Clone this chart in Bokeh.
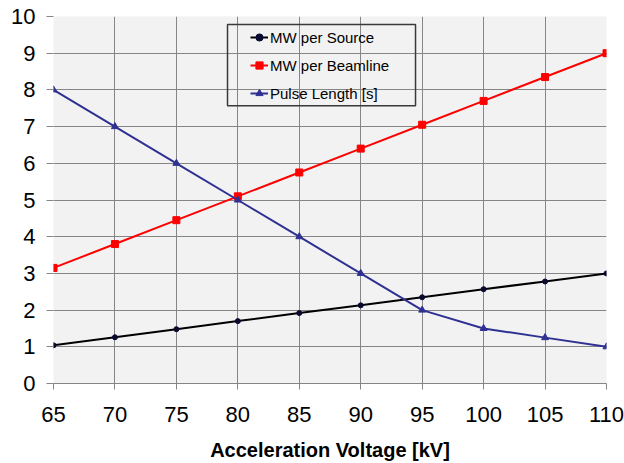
from bokeh.plotting import figure
from bokeh.models import Range1d, Legend, LegendItem, BoxAnnotation, FixedTicker
from bokeh.embed import file_html
from bokeh.resources import INLINE

# Acceleration voltage (kV)
voltage = [65, 70, 75, 80, 85, 90, 95, 100, 105, 110]
# Power per source (MW)
mw_per_source = [1.04, 1.26, 1.48, 1.70, 1.92, 2.13, 2.35, 2.57, 2.78, 3.00]
# Power per beamline (MW)
mw_per_beamline = [3.15, 3.80, 4.45, 5.10, 5.75, 6.40, 7.05, 7.70, 8.35, 9.00]
# Pulse length (s)
pulse_length = [8.0, 7.0, 6.0, 5.0, 4.0, 3.0, 2.0, 1.5, 1.25, 1.0]

x_ticks = [65, 70, 75, 80, 85, 90, 95, 100, 105, 110]
y_ticks = [0, 1, 2, 3, 4, 5, 6, 7, 8, 9, 10]

FONT = "Liberation Sans"
GRID = "#868686"

p = figure(
    width=624, height=463,
    x_range=Range1d(65, 110), y_range=Range1d(0, 10),
    output_backend="svg", toolbar_location=None,
    min_border_left=53, min_border_right=18,
    min_border_top=16, min_border_bottom=80,
    background_fill_color="#F2F2F2",
    border_fill_color="white",
    outline_line_color=None,
)

# grid
p.xgrid.ticker = FixedTicker(ticks=x_ticks)
p.ygrid.ticker = FixedTicker(ticks=y_ticks)
for g in (p.xgrid, p.ygrid):
    g.grid_line_color = GRID
    g.grid_line_width = 1

# x axis
p.xaxis.ticker = FixedTicker(ticks=x_ticks)
p.xaxis.axis_line_color = GRID
p.xaxis.major_tick_line_color = GRID
p.xaxis.major_tick_out = 6
p.xaxis.major_tick_in = 0
p.xaxis.minor_tick_line_color = None
p.xaxis.major_label_standoff = 17
p.xaxis.major_label_text_font = FONT
p.xaxis.major_label_text_font_size = "22px"
p.xaxis.major_label_text_color = "black"
p.xaxis.axis_label = "Acceleration Voltage [kV]"
p.xaxis.axis_label_text_font = FONT
p.xaxis.axis_label_text_font_size = "20px"
p.xaxis.axis_label_text_font_style = "bold"
p.xaxis.axis_label_text_color = "black"
p.xaxis.axis_label_standoff = 14

# y axis
p.yaxis.ticker = FixedTicker(ticks=y_ticks)
p.yaxis.axis_line_color = None
p.yaxis.major_tick_line_color = GRID
p.yaxis.major_tick_out = 7
p.yaxis.major_tick_in = 0
p.yaxis.minor_tick_line_color = None
p.yaxis.major_label_standoff = 11
p.yaxis.major_label_text_font = FONT
p.yaxis.major_label_text_font_size = "22px"
p.yaxis.major_label_text_color = "black"

# series
src_line = p.line(voltage, mw_per_source, line_color="black", line_width=2)
src_mark = p.scatter(voltage, mw_per_source, marker="circle", size=5,
                     fill_color="#0a0a30", line_color="#0a0a30")

bl_line = p.line(voltage, mw_per_beamline, line_color="#FF0000", line_width=2)
bl_mark = p.scatter(voltage, mw_per_beamline, marker="square", size=7,
                    fill_color="#FF0000", line_color="#FF0000")

pl_line = p.line(voltage, pulse_length, line_color="#2E3192", line_width=2)
pl_mark = p.scatter(voltage, pulse_length, marker="triangle", size=7,
                    fill_color="#2E3192", line_color="#2E3192")

# legend frame
p.add_layout(BoxAnnotation(left=79.16, right=94.46, bottom=7.57, top=9.78,
                           fill_alpha=0, line_color="#3a3a3a", line_alpha=1,
                           line_width=1.5))

legend = Legend(
    items=[
        LegendItem(label="MW per Source", renderers=[src_line, src_mark]),
        LegendItem(label="MW per Beamline", renderers=[bl_line, bl_mark]),
        LegendItem(label="Pulse Length [s]", renderers=[pl_line, pl_mark]),
    ],
    location=(197, 280),
    padding=0, margin=0, spacing=8,
    glyph_width=18, glyph_height=20, label_height=20,
    label_standoff=2,
    label_text_font=FONT, label_text_font_size="15px", label_text_color="black",
    background_fill_alpha=0, border_line_alpha=0,
)
p.add_layout(legend, "center")

open("out.html", "w").write(file_html(p, INLINE))
